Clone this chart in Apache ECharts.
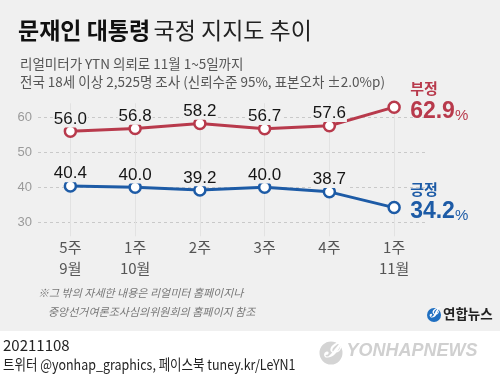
<!DOCTYPE html>
<html><head><meta charset="utf-8">
<script src="https://cdn.jsdelivr.net/npm/echarts@6/dist/echarts.min.js"></script>
<style>html,body{margin:0;padding:0;background:#fff}#c{width:500px;height:382px}</style>
</head><body><div id="c"></div>
<script>
const categories = ['5주\n9월', '1주\n10월', '2주', '3주', '4주', '1주\n11월'];
const negativeValues = [56.0, 56.8, 58.2, 56.7, 57.6, 62.9];
const positiveValues = [40.4, 40.0, 39.2, 40.0, 38.7, 34.2];
const seriesNames = ['부정', '긍정'];
const yTickMin = 30, yTickMax = 60, yTickStep = 10;

const RED = '#b83a4c', BLUE = '#1d5ba6', BG = '#f0f0f0';
const KR = '"Noto Sans CJK KR", "Noto Sans", sans-serif';
const NUM = '"Liberation Sans", Arial, sans-serif';

function seriesData(values) {
  return values.map((v, i) => ({ value: v, label: { show: i < values.length - 1 } }));
}
function endLabel(color) {
  return {
    show: true,
    distance: 16,
    offset: [0, -6],
    formatter: p => '{n|' + p.seriesName + '}\n{v|' + p.value.toFixed(1) + '}{p|%}',
    rich: {
      n: { fontSize: 15, fontWeight: 'bold', color: color, fontFamily: KR, lineHeight: 21 },
      v: { fontSize: 23, fontWeight: 'bold', color: color, fontFamily: NUM, lineHeight: 25 },
      p: { fontSize: 15, color: color, fontFamily: NUM, lineHeight: 25, verticalAlign: 'bottom', padding: [0, 0, 1, 0] }
    }
  };
}
function lineSeries(name, values, color) {
  return {
    type: 'line', name: name, xAxisIndex: 0, yAxisIndex: 0, z: 3,
    data: seriesData(values),
    symbol: 'circle', symbolSize: 11, showAllSymbol: true,
    itemStyle: { color: '#fff', borderColor: color, borderWidth: 2.5 },
    lineStyle: { color: color, width: 3 },
    label: { show: true, position: 'top', distance: 2, offset: [0, 5], fontSize: 17, color: '#151515', fontFamily: NUM,
      backgroundColor: BG, padding: [0, 1],
      formatter: p => p.value.toFixed(1) },
    endLabel: endLabel(color),
    emphasis: { disabled: true },
    animation: false
  };
}

const chart = echarts.init(document.getElementById('c'), null, { renderer: 'canvas' });
chart.setOption({
  backgroundColor: '#fff',
  animation: false,
  grid: [
    { left: 38, right: 73.5, top: 103.3, bottom: 145.7 },
    { left: 38, right: 73.5, top: 117.3, bottom: 159.7 }
  ],
  xAxis: [
    { type: 'category', gridIndex: 0, data: categories, boundaryGap: true,
      axisLine: { show: false }, axisTick: { show: false }, splitLine: { show: false },
      axisLabel: { color: '#555', fontSize: 15, fontFamily: KR, lineHeight: 21, margin: 0, interval: 0 } },
    { type: 'category', gridIndex: 1, data: categories, show: false }
  ],
  yAxis: [
    { type: 'value', gridIndex: 0, min: 26, max: 64, show: false },
    { type: 'value', gridIndex: 1, min: yTickMin, max: yTickMax, interval: yTickStep,
      axisLine: { show: false }, axisTick: { show: false },
      axisLabel: { color: '#9a9a9a', fontSize: 13, fontFamily: NUM, margin: 6 },
      splitLine: { lineStyle: { color: '#c9c9c9', type: [3, 3], width: 1 } } }
  ],
  series: [
    { type: 'line', xAxisIndex: 0, yAxisIndex: 0, data: [], z: 1, silent: true,
      markLine: { z: 1, silent: true, symbol: ['none', 'none'], label: { show: false },
        lineStyle: { color: '#e2e2e2', type: 'solid', width: 1 },
        emphasis: { disabled: true },
        data: categories.map(c => ({ xAxis: c })) } },
    lineSeries(seriesNames[0], negativeValues, RED),
    lineSeries(seriesNames[1], positiveValues, BLUE)
  ],
  graphic: [
    { type: 'rect', z: -10, silent: true, shape: { x: 0, y: 0, width: 500, height: 331 }, style: { fill: BG } },
    { type: 'text', left: 18, top: 19, style: {
        text: '{b|문재인 대통령} {r|국정 지지도 추이}',
        rich: {
          b: { fontSize: 23, fontWeight: 'bold', fill: '#111', fontFamily: KR },
          r: { fontSize: 23, fill: '#222', fontFamily: KR }
        } } },
    { type: 'text', left: 20, top: 57, style: { text: '리얼미터가 YTN 의뢰로 11월 1~5일까지', fontSize: 13.5, fill: '#555', fontFamily: KR } },
    { type: 'text', left: 20, top: 75, style: { text: '전국 18세 이상 2,525명 조사 (신뢰수준 95%, 표본오차 ±2.0%p)', fontSize: 13.5, fill: '#555', fontFamily: KR } },
    { type: 'text', left: 38, top: 287, style: { text: '※그 밖의 자세한 내용은 리얼미터 홈페이지나', fontSize: 11, fill: '#777', fontFamily: KR, fontStyle: 'italic' } },
    { type: 'text', left: 48, top: 306, style: { text: '중앙선거여론조사심의위원회의 홈페이지 참조', fontSize: 11, fill: '#777', fontFamily: KR, fontStyle: 'italic' } },
    { type: 'circle', shape: { cx: 434, cy: 315, r: 7 }, style: { fill: '#1f6fc1' } },
    { type: 'text', left: 430, top: 307, style: { text: 'ℐ', fontSize: 13, fill: '#fff', fontFamily: NUM, fontWeight: 'bold' } },
    { type: 'text', left: 443, top: 307, style: { text: '연합뉴스', fontSize: 13.5, fontWeight: 'bold', fill: '#222', fontFamily: KR } },
    { type: 'text', left: 3, top: 338, style: { text: '20211108', fontSize: 15, fill: '#222', fontFamily: KR } },
    { type: 'text', x: 3, y: 357, scaleX: 0.86, style: { text: '트위터 @yonhap_graphics, 페이스북 tuney.kr/LeYN1', fontSize: 14.5, fill: '#222', fontFamily: KR } },
    { type: 'circle', shape: { cx: 331, cy: 353, r: 12.5 }, style: { fill: '#d4d4d4', stroke: '#fff', lineWidth: 2 } },
    { type: 'text', left: 324, top: 340, style: { text: 'ℐ', fontSize: 22, fill: '#fff', fontFamily: NUM, fontWeight: 'bold', fontStyle: 'italic' } },
    { type: 'text', left: 346, top: 342, style: { text: 'YONHAPNEWS', fontSize: 18, fontWeight: 'bold', fontStyle: 'italic', fill: '#d0d0d0', stroke: '#fff', lineWidth: 1, fontFamily: NUM } }
  ]
});
</script>
</body></html>
